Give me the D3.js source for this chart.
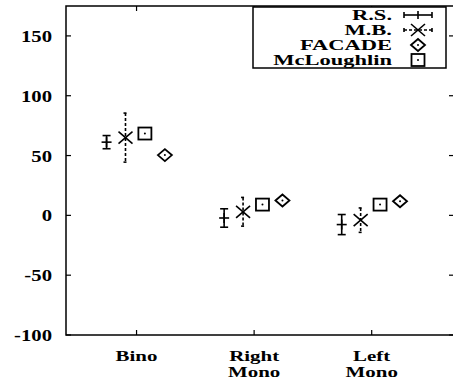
<!DOCTYPE html>
<html><head><meta charset="utf-8">
<script src="https://cdn.jsdelivr.net/npm/d3@7"></script>
<style>
html,body{margin:0;padding:0;background:#fff;}
svg{display:block;}
svg text{font-family:"Liberation Serif","DejaVu Serif",serif;font-weight:700;}
</style></head>
<body><svg id="c" width="453" height="385"></svg>
<script>
const categories = [["Bino"], ["Right", "Mono"], ["Left", "Mono"]];
const seriesNames = ["R.S.", "M.B.", "FACADE", "McLoughlin"];
const seriesOffsets = [-0.255, -0.094, 0.241, 0.071];
const rsValues = [61.2, -2.2, -7.7];
const rsErrors = [5.5, 7.7, 8.4];
const mbValues = [65, 3, -4];
const mbErrors = [20.5, 12, 10.2];
const facadeValues = [50.4, 12.4, 11.8];
const mclValues = [68.4, 9, 9];
const yTicks = [-100, -50, 0, 50, 100, 150];

const svg = d3.select("#c");
const x = d3.scaleLinear().domain([0.4, 3.7]).range([66, 454]);
const y = d3.scaleLinear().domain([-100, 175]).range([335, 6]);

function txt(g, s, tx, ty, anchor, fs, sx) {
  g.append("g").attr("transform", `translate(${tx},${ty}) scale(${sx},1)`)
    .append("text").attr("text-anchor", anchor).style("font-size", fs + "px")
    .attr("fill", "#000").text(s);
}

svg.append("rect").attr("x", x(0.4)).attr("y", y(175)).attr("width", x(3.7) - x(0.4)).attr("height", y(-100) - y(175))
  .attr("fill", "none").attr("stroke", "#000").attr("stroke-width", 1.5);

const ax = svg.append("g").attr("stroke", "#000").attr("stroke-width", 1.2);
yTicks.forEach(t => {
  ax.append("line").attr("x1", x(0.4)).attr("x2", x(0.4) + 5).attr("y1", y(t)).attr("y2", y(t));
  ax.append("line").attr("x1", x(3.7)).attr("x2", x(3.7) - 5).attr("y1", y(t)).attr("y2", y(t));
});
categories.forEach((c, i) => {
  ax.append("line").attr("x1", x(i + 1)).attr("x2", x(i + 1)).attr("y1", y(-100)).attr("y2", y(-100) - 5);
  ax.append("line").attr("x1", x(i + 1)).attr("x2", x(i + 1)).attr("y1", y(175)).attr("y2", y(175) + 5);
});
const tl = svg.append("g");
yTicks.forEach(t => txt(tl, String(t), 52, y(t) + 6, "end", 17, 1.22));
categories.forEach((c, i) => {
  c.forEach((line, j) => txt(tl, line, x(i + 1), 361 + j * 16, "middle", 15.5, 1.35));
});

const g = svg.append("g").attr("stroke", "#000").attr("fill", "none").attr("stroke-width", 1.6);
function errBar(p, cx, v, e, cap, dash) {
  const b = p.append("g");
  if (dash) b.attr("stroke-dasharray", dash);
  b.append("line").attr("x1", cx).attr("x2", cx).attr("y1", y(v + e)).attr("y2", y(v - e));
  b.append("line").attr("x1", cx - cap).attr("x2", cx + cap).attr("y1", y(v + e)).attr("y2", y(v + e));
  b.append("line").attr("x1", cx - cap).attr("x2", cx + cap).attr("y1", y(v - e)).attr("y2", y(v - e));
}
function plus(p, cx, cy) {
  p.append("line").attr("x1", cx - 5).attr("x2", cx + 5).attr("y1", cy).attr("y2", cy);
  p.append("line").attr("x1", cx).attr("x2", cx).attr("y1", cy - 5).attr("y2", cy + 5);
}
function cross(p, cx, cy) {
  p.append("line").attr("x1", cx - 7).attr("x2", cx + 7).attr("y1", cy - 6).attr("y2", cy + 6);
  p.append("line").attr("x1", cx - 7).attr("x2", cx + 7).attr("y1", cy + 6).attr("y2", cy - 6);
}
function square(p, cx, cy) {
  p.append("rect").attr("x", cx - 6.5).attr("y", cy - 6).attr("width", 13).attr("height", 12).attr("stroke-width", 1.8);
  p.append("circle").attr("cx", cx).attr("cy", cy).attr("r", 1).attr("fill", "#000").attr("stroke", "none");
}
function diamond(p, cx, cy) {
  p.append("path").attr("d", `M${cx - 7},${cy}L${cx},${cy - 6}L${cx + 7},${cy}L${cx},${cy + 6}Z`).attr("stroke-width", 1.8);
  p.append("circle").attr("cx", cx).attr("cy", cy).attr("r", 1).attr("fill", "#000").attr("stroke", "none");
}

categories.forEach((c, i) => {
  const c0 = i + 1;
  let cx = x(c0 + seriesOffsets[0]);
  errBar(g, cx, rsValues[i], rsErrors[i], 4, null);
  plus(g, cx, y(rsValues[i]));
  cx = x(c0 + seriesOffsets[1]);
  errBar(g, cx, mbValues[i], mbErrors[i], 2, "3,2");
  cross(g, cx, y(mbValues[i]));
  diamond(g, x(c0 + seriesOffsets[2]), y(facadeValues[i]));
  square(g, x(c0 + seriesOffsets[3]), y(mclValues[i]));
});

const lg = svg.append("g");
lg.append("rect").attr("x", 253).attr("y", 7).attr("width", 193).attr("height", 61)
  .attr("fill", "#fff").attr("stroke", "#000").attr("stroke-width", 1.5);
const rowY = [15, 30, 45, 60];
seriesNames.forEach((s, k) => txt(lg, s, 392, rowY[k] + 5, "end", 15, 1.5));
const ls = lg.append("g").attr("stroke", "#000").attr("fill", "none").attr("stroke-width", 1.6);
const lx = 418;
ls.append("line").attr("x1", lx - 14).attr("x2", lx + 14).attr("y1", rowY[0]).attr("y2", rowY[0]);
ls.append("line").attr("x1", lx - 14).attr("x2", lx - 14).attr("y1", rowY[0] - 3).attr("y2", rowY[0] + 3);
ls.append("line").attr("x1", lx + 14).attr("x2", lx + 14).attr("y1", rowY[0] - 3).attr("y2", rowY[0] + 3);
ls.append("line").attr("x1", lx).attr("x2", lx).attr("y1", rowY[0] - 4).attr("y2", rowY[0] + 4);
ls.append("line").attr("x1", lx - 14).attr("x2", lx + 14).attr("y1", rowY[1]).attr("y2", rowY[1]).attr("stroke-dasharray", "3,2");
ls.append("line").attr("x1", lx - 14).attr("x2", lx - 14).attr("y1", rowY[1] - 2).attr("y2", rowY[1] + 2);
ls.append("line").attr("x1", lx + 14).attr("x2", lx + 14).attr("y1", rowY[1] - 2).attr("y2", rowY[1] + 2);
cross(ls, lx, rowY[1]);
diamond(ls, lx, rowY[2]);
square(ls, lx, rowY[3]);
</script></body></html>
